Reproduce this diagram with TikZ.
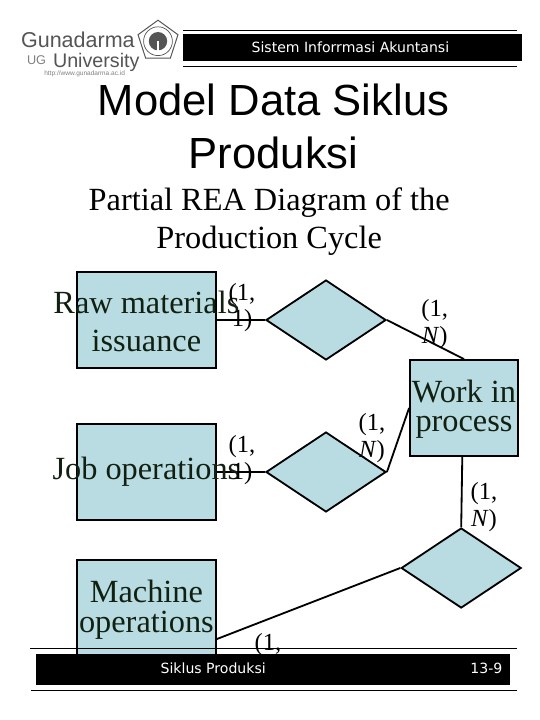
\documentclass[tikz,border=0pt]{standalone}
\usepackage{fontspec}
\setmainfont{Liberation Serif}
\newfontfamily\titlefont{Liberation Sans}
\newfontfamily\barfont{DejaVu Sans}
\usetikzlibrary{shapes.geometric}
\definecolor{boxfill}{HTML}{B8DCE2}
\definecolor{boxtext}{HTML}{122012}
\definecolor{logogray}{HTML}{555555}
\tikzset{
  entity/.style={draw, line width=1.3pt, fill=boxfill, inner sep=0pt},
  relation/.style={diamond, draw, line width=1.3pt, fill=boxfill, inner sep=0pt, minimum width=3.00cm, minimum height=2cm},
  link/.style={draw, line width=1.3pt},
  entitytext/.style={align=center, text=boxtext, font=\fontsize{23}{21}\selectfont},
  cardinality/.style={align=center, font=\fontsize{17.5}{19}\selectfont},
  barline/.style={draw, line width=0.7pt},
  bartext/.style={text=white, font=\barfont\fontsize{10}{12}\selectfont},
  logotext/.style={anchor=base west, inner sep=0pt, text=logogray}
}
\begin{document}
\begin{tikzpicture}
\useasboundingbox (0,0) rectangle (13.5,-18);
\fill[white] (0,0) rectangle (13.5,-18);

\node[logotext, font=\titlefont\fontsize{15.3}{16}\selectfont] (gunadarma) at (0.52,-1.18) {Gunadarma};
\node[logotext, font=\titlefont\fontsize{14}{16}\selectfont] (university) at (1.32,-1.675) {University};
\node[logotext, text=gray, font=\titlefont\fontsize{9}{9}\selectfont] (ug) at (0.67,-1.60) {UG};
\node[logotext, text=gray, font=\titlefont\fontsize{4.65}{5}\selectfont] (web) at (1.10,-1.88) {http://www.gunadarma.ac.id};
\node[regular polygon, regular polygon sides=5, draw=logogray, line width=0.7pt, minimum size=1.05cm, inner sep=0pt] (seal) at (3.95,-1.03) {};
\node[circle, draw=logogray, line width=0.5pt, minimum size=0.72cm, inner sep=0pt] (sealring) at (3.95,-1.03) {};
\node[circle, fill=logogray, minimum size=0.46cm, inner sep=0pt] (sealcore) at (sealring.center) {};
\draw[white, line width=0.8pt] (sealcore.center) -- (sealcore.south);

\node[text=black, font=\titlefont\fontsize{31}{37.7}\selectfont, align=center] (title) at (6.84,-3.15) {Model Data Siklus\\Produksi};
\node[text=black, font=\fontsize{23}{27}\selectfont, align=center] (subtitle) at (6.73,-5.54) {Partial REA Diagram of the\\Production Cycle};

\node[entity, minimum width=3.48cm, minimum height=2.4cm] (raw) at (3.66,-8.00) {};
\node[entity, minimum width=3.48cm, minimum height=2.4cm] (job) at (3.66,-11.80) {};
\node[entity, minimum width=3.48cm, minimum height=2.4cm] (machine) at (3.66,-15.19) {};
\node[entity, minimum width=2.70cm, minimum height=2.4cm] (wip) at (11.60,-10.20) {};

\node[relation] (issue) at (8.15,-8.00) {};
\node[relation] (perform) at (8.15,-11.80) {};
\node[relation] (use) at (11.53,-14.20) {};

\draw[link] (raw.east) -- (issue.west);
\draw[link] (job.east) -- (perform.west);
\draw[link] (issue.east) -- (wip.north);
\draw[link] (perform.east) -- (wip.west);
\draw[link] (wip.-92) -- (use.north);
\draw[link] (use.west) -- (machine.-24);

\node[entitytext, yshift=-0.04cm] (rawtext) at (raw) {Raw materials\\[6pt]issuance};
\node[entitytext] (jobtext) at (job) {Job operations};
\node[entitytext, yshift=-0.05cm] (machinetext) at (machine) {Machine\\operations};
\node[entitytext, yshift=-0.03cm] (wiptext) at (wip) {Work in\\process};

\node[cardinality] (rawcard) at (6.05,-7.69) {(1,\\1)};
\node[cardinality] (jobcard) at (6.05,-11.51) {(1,\\1)};
\node[cardinality] (issuecard) at (10.87,-8.10) {(1,\\\textit{N})};
\node[cardinality] (performcard) at (9.30,-10.95) {(1,\\\textit{N})};
\node[cardinality] (wipcard) at (12.10,-12.68) {(1,\\\textit{N})};
\node[cardinality] (machinecard) at (6.70,-16.45) {(1,\\\phantom{1)}};

\path[barline] (0.75,-16.20) -- (12.93,-16.20);
\path[barline] (0.78,-17.25) -- (12.93,-17.25);
\fill[black] (0.90,-16.35) rectangle (12.75,-17.12);
\node[bartext] (section) at (5.33,-16.70) {Siklus Produksi};
\node[bartext] (page) at (12.16,-16.72) {13-9};

\path[barline] (4.575,-0.75) -- (12.93,-0.75);
\path[barline] (4.575,-1.65) -- (12.93,-1.65);
\fill[black] (4.575,-0.85) rectangle (13.05,-1.525);
\node[bartext] (course) at (8.76,-1.18) {Sistem Inforrmasi Akuntansi};
\end{tikzpicture}
\end{document}
